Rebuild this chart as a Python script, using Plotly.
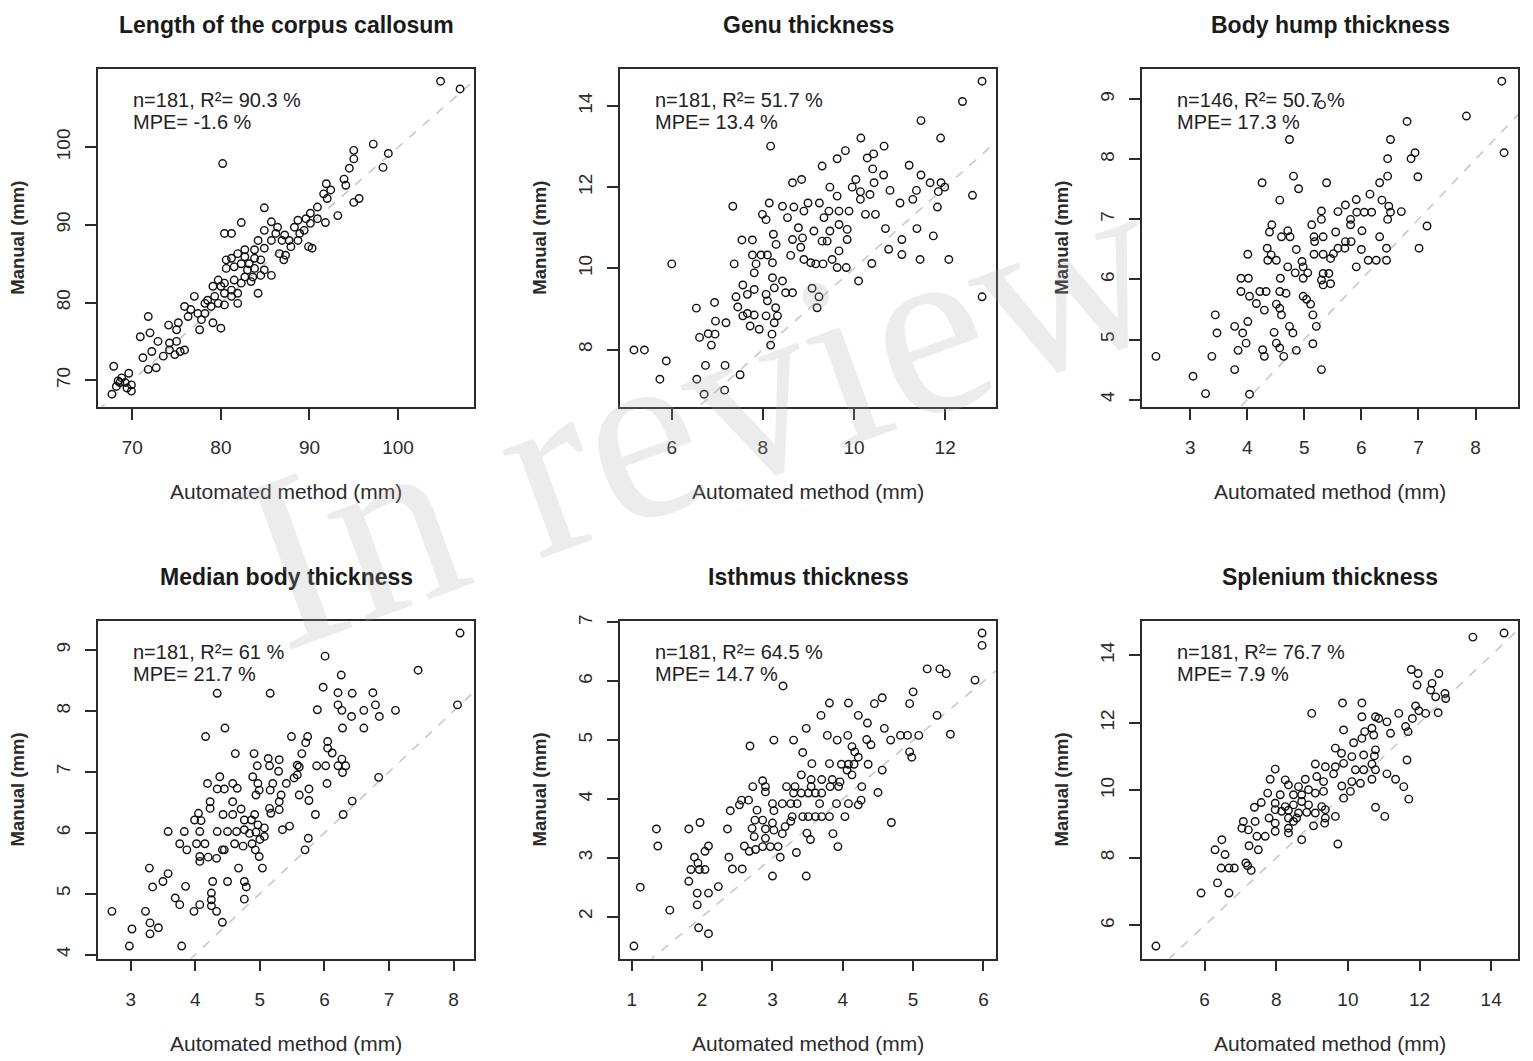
import plotly.graph_objects as go

# ---------------- data ----------------
titles = ["Length of the corpus callosum", "Genu thickness", "Body hump thickness",
          "Median body thickness", "Isthmus thickness", "Splenium thickness"]
stats_n = [181, 181, 146, 181, 181, 181]
stats_r2 = ["90.3", "51.7", "50.7", "61", "64.5", "76.7"]
stats_mpe = ["-1.6", "13.4", "17.3", "21.7", "14.7", "7.9"]

xticks_all = [[70, 80, 90, 100], [6, 8, 10, 12], [3, 4, 5, 6, 7, 8],
              [3, 4, 5, 6, 7, 8], [1, 2, 3, 4, 5, 6], [6, 8, 10, 12, 14]]
yticks_all = [[70, 80, 90, 100], [8, 10, 12, 14], [4, 5, 6, 7, 8, 9],
              [4, 5, 6, 7, 8, 9], [2, 3, 4, 5, 6, 7], [6, 8, 10, 12, 14]]

length_auto = [104.8, 107.0, 80.2, 95.0, 97.2, 98.9, 95.0, 98.3, 94.5, 93.9, 91.9, 92.4, 91.6, 94.1, 92.0, 95.0, 95.6,
               84.9, 93.2, 91.8, 90.9, 90.1, 89.6, 90.9, 88.7, 88.3, 89.4, 88.9, 90.1, 82.3, 85.7, 84.9, 86.4, 87.2,
               80.4, 81.2, 86.2, 85.7, 84.2, 86.9, 87.7, 88.7, 89.9, 90.3, 86.6, 87.3, 87.1, 87.9, 84.9, 83.8, 82.7,
               81.9, 80.6, 81.2, 82.7, 83.8, 84.5, 83.2, 82.3, 80.6, 81.5, 83.8, 83.0, 84.9, 85.7, 84.5, 83.6, 82.7,
               81.5, 79.7, 80.4, 82.3, 83.4, 79.1, 80.0, 81.2, 81.9, 81.2, 80.4, 84.2, 79.3, 78.5, 78.2, 78.9, 79.7,
               80.4, 81.9, 77.0, 75.9, 76.6, 77.4, 78.2, 76.3, 77.8, 79.1, 80.0, 77.6, 71.8, 74.1, 75.2, 75.0, 72.0,
               70.9, 72.9, 74.2, 75.0, 72.2, 74.2, 75.4, 75.9, 71.2, 73.5, 74.8, 71.8, 72.7, 67.9, 68.8, 69.6, 68.4,
               69.2, 68.2, 69.9, 69.9, 67.7, 69.4, 68.6]
length_manual = [108.5, 107.5, 97.9, 99.6, 100.4, 99.2, 98.5, 97.4, 97.3, 95.9, 95.3, 94.5, 94.0, 95.1, 93.4, 92.9, 93.4,
                 92.2, 91.2, 90.3, 92.3, 91.5, 90.8, 90.8, 90.6, 89.7, 89.3, 88.9, 90.2, 90.3, 90.4, 89.3, 89.7, 88.7,
                 88.9, 88.9, 88.9, 88.0, 88.0, 88.0, 88.0, 88.0, 87.2, 87.0, 86.3, 86.1, 85.5, 87.2, 87.0, 86.8, 86.8,
                 86.3, 85.5, 85.7, 85.9, 85.7, 85.5, 85.0, 85.0, 84.4, 84.6, 84.4, 84.2, 84.2, 83.5, 83.5, 83.3, 83.3,
                 82.9, 82.9, 82.5, 82.5, 82.7, 82.1, 82.1, 81.6, 81.2, 80.8, 81.2, 81.2, 80.8, 80.3, 79.9, 79.5, 79.9,
                 79.7, 79.9, 80.8, 79.5, 79.1, 78.6, 78.6, 78.2, 77.8, 77.4, 76.7, 76.5, 78.2, 77.1, 77.4, 76.5, 76.1,
                 75.6, 75.0, 74.8, 75.0, 73.7, 73.9, 73.7, 73.9, 72.9, 73.1, 73.3, 71.4, 71.6, 71.8, 70.3, 70.9, 69.9,
                 69.7, 69.2, 69.4, 68.6, 68.2, 69.0, 69.7]

genu_auto = [12.81, 12.38, 11.47, 11.90, 10.15, 8.17, 10.66, 9.81, 9.63, 10.43, 10.29, 9.30, 11.21, 10.41, 8.65, 8.85,
             11.47, 10.65, 10.04, 10.44, 11.67, 11.91, 11.99, 9.96, 9.47, 10.14, 10.79, 11.37, 11.85, 12.60, 9.63,
             10.14, 10.35, 11.29, 11.01, 11.83, 8.14, 8.99, 9.24, 7.34, 8.43, 8.68, 8.90, 9.45, 9.67, 9.89, 10.25,
             10.47, 8.54, 7.99, 8.07, 9.34, 9.67, 9.85, 8.78, 9.12, 9.47, 8.23, 10.69, 11.38, 8.65, 8.87, 9.30, 9.41,
             9.85, 11.74, 7.54, 7.77, 8.29, 11.05, 8.83, 9.67, 10.76, 11.05, 7.77, 7.96, 8.10, 8.61, 8.90, 9.05, 9.16,
             9.32, 9.52, 10.39, 11.45, 12.08, 6.00, 7.37, 7.85, 8.21, 9.63, 9.83, 10.10, 7.81, 8.21, 8.43, 7.56, 7.81,
             8.25, 7.66, 8.07, 8.50, 8.65, 7.41, 9.08, 9.23, 8.10, 8.28, 9.19, 6.54, 6.94, 7.45, 7.66, 7.81, 8.07,
             7.56, 8.32, 6.96, 7.19, 6.80, 6.95, 6.61, 6.87, 7.72, 7.92, 8.20, 8.25, 8.17, 5.17, 5.40, 5.88, 5.74,
             6.55, 6.74, 7.17, 7.50, 6.71, 7.16, 12.81]
genu_manual = [14.61, 14.11, 13.64, 13.21, 13.21, 13.01, 13.01, 12.90, 12.70, 12.82, 12.72, 12.52, 12.54, 12.45, 12.11,
               12.19, 12.30, 12.30, 12.19, 12.11, 12.11, 12.11, 12.00, 12.00, 12.00, 11.89, 11.92, 11.92, 11.89, 11.80,
               11.78, 11.70, 11.82, 11.70, 11.61, 11.51, 11.61, 11.61, 11.61, 11.53, 11.53, 11.51, 11.41, 11.41,
               11.41, 11.41, 11.33, 11.33, 11.25, 11.33, 11.20, 11.25, 11.08, 10.96, 11.00, 10.92, 10.92, 10.84,
               10.98, 10.98, 10.71, 10.75, 10.67, 10.67, 10.71, 10.80, 10.70, 10.70, 10.59, 10.71, 10.52, 10.43,
               10.47, 10.34, 10.33, 10.33, 10.33, 10.32, 10.22, 10.14, 10.11, 10.11, 10.22, 10.12, 10.22, 10.22,
               10.11, 10.11, 10.11, 10.14, 10.02, 10.02, 9.69, 9.89, 9.77, 9.69, 9.59, 9.48, 9.52, 9.36, 9.36, 9.40,
               9.40, 9.30, 9.51, 9.30, 9.20, 9.03, 9.03, 9.02, 9.16, 9.05, 8.89, 8.85, 8.83, 8.83, 8.83, 8.70, 8.66,
               8.39, 8.38, 8.30, 8.11, 8.58, 8.50, 8.38, 8.66, 8.11, 7.99, 7.99, 7.72, 7.27, 7.27, 7.61, 7.61, 7.38,
               6.90, 7.00, 9.30]

hump_auto = [8.46, 8.50, 7.84, 6.80, 5.30, 4.74, 6.51, 6.46, 6.87, 6.94, 6.46, 6.99, 6.32, 4.81, 4.26, 4.90, 5.39, 6.15,
             4.57, 5.91, 6.36, 6.48, 5.30, 5.59, 5.72, 5.92, 6.05, 6.18, 6.51, 6.70, 5.30, 5.81, 6.46, 4.43, 5.13,
             5.81, 7.15, 4.39, 4.71, 5.55, 6.01, 4.60, 4.75, 5.17, 5.33, 5.72, 5.82, 6.32, 5.18, 4.35, 4.86, 6.44,
             7.01, 4.01, 4.42, 5.17, 5.33, 5.51, 5.59, 5.71, 6.00, 4.36, 4.51, 4.71, 4.96, 4.98, 5.46, 5.91, 6.12,
             6.26, 6.44, 4.84, 5.06, 5.33, 5.43, 3.89, 4.02, 4.58, 4.98, 5.30, 5.33, 5.46, 3.89, 4.04, 4.16, 4.30,
             4.22, 4.33, 4.57, 4.68, 4.98, 5.04, 5.11, 4.51, 4.57, 4.60, 5.15, 3.44, 4.01, 3.78, 3.92, 3.47, 4.47,
             4.74, 4.80, 5.21, 3.98, 3.84, 4.27, 4.30, 4.51, 4.57, 4.64, 4.86, 5.15, 3.38, 2.40, 3.78, 5.30, 3.05,
             3.27, 4.04]
hump_manual = [9.30, 8.11, 8.72, 8.63, 8.91, 8.33, 8.33, 8.01, 8.01, 8.11, 7.72, 7.71, 7.61, 7.72, 7.61, 7.51, 7.61,
               7.42, 7.32, 7.33, 7.32, 7.22, 7.14, 7.13, 7.24, 7.12, 7.12, 7.12, 7.12, 7.13, 7.00, 7.00, 7.00, 6.91,
               6.91, 6.91, 6.89, 6.79, 6.81, 6.79, 6.81, 6.71, 6.71, 6.71, 6.71, 6.63, 6.63, 6.71, 6.63, 6.52, 6.50,
               6.52, 6.52, 6.42, 6.41, 6.42, 6.42, 6.43, 6.52, 6.52, 6.50, 6.32, 6.32, 6.21, 6.30, 6.21, 6.35, 6.21,
               6.32, 6.32, 6.32, 6.11, 6.11, 6.10, 6.10, 6.02, 6.02, 6.02, 6.02, 5.99, 5.91, 5.93, 5.80, 5.72, 5.60,
               5.49, 5.80, 5.80, 5.80, 5.77, 5.72, 5.67, 5.59, 5.59, 5.52, 5.41, 5.41, 5.41, 5.30, 5.22, 5.11, 5.11,
               5.12, 5.22, 5.11, 5.22, 4.94, 4.82, 4.83, 4.72, 4.94, 4.86, 4.72, 4.82, 4.93, 4.72, 4.72, 4.50, 4.50,
               4.39, 4.10, 4.09]

median_auto = [8.10, 8.06, 7.45, 6.01, 4.34, 5.16, 6.26, 5.98, 6.21, 6.43, 6.75, 6.21, 6.27, 6.79, 5.89, 6.61, 7.10,
               6.42, 6.85, 6.28, 6.61, 4.46, 4.16, 5.49, 5.74, 5.71, 6.05, 6.05, 6.12, 4.62, 4.91, 5.13, 5.30, 5.65,
               6.27, 4.96, 5.15, 5.58, 5.61, 5.88, 6.02, 6.21, 6.33, 6.28, 5.29, 5.58, 4.38, 4.89, 6.84, 5.53, 4.19,
               4.58, 4.97, 5.20, 5.41, 6.04, 4.34, 4.45, 4.65, 4.99, 5.16, 5.76, 5.33, 5.61, 4.94, 4.23, 4.58, 5.30,
               6.43, 5.76, 4.23, 4.71, 5.15, 5.30, 4.05, 4.43, 4.58, 4.92, 5.17, 5.86, 6.29, 3.99, 4.09, 4.76, 4.87,
               4.97, 5.07, 3.58, 3.83, 4.07, 4.34, 4.50, 4.64, 4.76, 4.84, 5.35, 5.46, 4.94, 5.07, 5.00, 3.76, 4.02,
               4.15, 3.87, 4.45, 4.61, 4.74, 4.88, 4.93, 5.75, 5.70, 4.07, 4.20, 4.33, 4.99, 4.07, 4.42, 4.67, 5.04,
               3.29, 3.58, 3.50, 3.34, 3.85, 4.27, 4.50, 4.76, 4.79, 3.69, 3.76, 4.25, 4.25, 4.07, 4.25, 4.76, 3.98,
               4.33, 2.71, 3.23, 3.30, 3.43, 3.02, 3.30, 4.42, 2.98, 3.79]
median_manual = [9.28, 8.10, 8.67, 8.90, 8.29, 8.29, 8.59, 8.39, 8.30, 8.29, 8.30, 8.10, 8.01, 8.10, 8.02, 8.01, 8.01,
                 7.91, 7.91, 7.72, 7.72, 7.72, 7.58, 7.58, 7.58, 7.48, 7.50, 7.39, 7.31, 7.30, 7.30, 7.22, 7.20, 7.30,
                 7.21, 7.10, 7.10, 7.11, 7.08, 7.10, 7.10, 7.10, 7.10, 6.99, 7.01, 6.95, 6.92, 6.92, 6.91, 6.90, 6.81,
                 6.81, 6.81, 6.81, 6.81, 6.81, 6.72, 6.72, 6.73, 6.70, 6.70, 6.72, 6.62, 6.62, 6.62, 6.51, 6.51, 6.51,
                 6.52, 6.53, 6.40, 6.39, 6.40, 6.38, 6.32, 6.30, 6.30, 6.30, 6.32, 6.30, 6.30, 6.21, 6.20, 6.21, 6.21,
                 6.13, 6.08, 6.02, 6.02, 6.02, 6.02, 6.02, 6.02, 6.05, 5.99, 6.05, 6.11, 6.01, 5.94, 5.89, 5.82, 5.82,
                 5.82, 5.72, 5.72, 5.82, 5.78, 5.82, 5.72, 5.91, 5.72, 5.61, 5.60, 5.58, 5.61, 5.53, 5.72, 5.42, 5.42,
                 5.42, 5.33, 5.20, 5.11, 5.12, 5.20, 5.20, 5.20, 5.11, 4.93, 4.82, 5.01, 4.90, 4.82, 4.80, 4.91, 4.71,
                 4.71, 4.71, 4.71, 4.52, 4.44, 4.42, 4.34, 4.53, 4.14, 4.14]

isthmus_auto = [5.98, 5.98, 5.20, 5.38, 5.47, 5.88, 3.15, 5.00, 4.95, 3.81, 4.08, 4.45, 4.56, 3.69, 4.22, 5.34, 4.35,
                3.48, 4.59, 3.78, 4.07, 5.53, 4.82, 4.92, 5.08, 3.02, 3.30, 3.92, 4.34, 4.68, 2.68, 4.13, 4.40, 4.17,
                3.43, 4.95, 4.98, 4.22, 3.56, 3.81, 3.98, 4.08, 4.16, 4.36, 4.56, 4.06, 4.13, 3.41, 3.55, 3.70, 3.85,
                3.96, 2.86, 2.72, 2.90, 3.20, 3.32, 3.55, 3.82, 3.94, 4.27, 2.90, 3.30, 3.41, 3.51, 3.61, 3.70, 4.26,
                4.50, 2.56, 2.66, 2.53, 3.00, 3.14, 3.26, 3.35, 3.67, 3.91, 4.08, 4.22, 2.78, 3.02, 2.40, 3.43, 3.51,
                3.61, 3.70, 3.81, 4.03, 3.28, 2.75, 2.86, 3.00, 3.18, 3.26, 4.69, 1.35, 1.81, 1.97, 2.36, 2.71, 2.90,
                3.02, 2.74, 2.90, 3.14, 3.49, 3.86, 3.54, 3.93, 1.37, 2.60, 2.67, 2.76, 2.86, 2.97, 3.08, 2.09, 2.04,
                3.11, 3.34, 1.89, 1.94, 2.38, 1.84, 1.96, 2.04, 2.43, 2.57, 1.81, 2.23, 1.93, 2.09, 3.00, 3.48, 1.12,
                1.54, 1.93, 1.95, 2.09, 1.03]
isthmus_manual = [6.82, 6.61, 6.21, 6.21, 6.13, 6.02, 5.92, 5.82, 5.62, 5.63, 5.63, 5.62, 5.72, 5.42, 5.42, 5.42, 5.29,
                  5.20, 5.20, 5.08, 5.08, 5.10, 5.08, 5.08, 5.08, 5.00, 5.00, 5.00, 5.01, 5.00, 4.90, 4.89, 4.92, 4.80,
                  4.79, 4.80, 4.71, 4.71, 4.60, 4.60, 4.59, 4.59, 4.59, 4.59, 4.49, 4.49, 4.41, 4.41, 4.33, 4.33, 4.33,
                  4.29, 4.31, 4.21, 4.21, 4.21, 4.21, 4.21, 4.21, 4.21, 4.21, 4.12, 4.10, 4.10, 4.10, 4.10, 4.10, 3.98,
                  4.11, 3.98, 3.98, 3.90, 3.92, 3.92, 3.92, 3.92, 3.92, 3.92, 3.92, 3.90, 3.81, 3.80, 3.80, 3.70, 3.70,
                  3.70, 3.70, 3.70, 3.70, 3.70, 3.64, 3.64, 3.59, 3.53, 3.62, 3.60, 3.49, 3.49, 3.60, 3.49, 3.50, 3.49,
                  3.47, 3.36, 3.33, 3.41, 3.42, 3.41, 3.31, 3.19, 3.20, 3.20, 3.11, 3.14, 3.19, 3.19, 3.19, 3.20, 3.11,
                  3.01, 3.09, 3.01, 2.91, 3.01, 2.80, 2.80, 2.80, 2.81, 2.81, 2.60, 2.51, 2.40, 2.40, 2.69, 2.69, 2.50,
                  2.11, 2.20, 1.81, 1.71, 1.50]

splenium_auto = [14.36, 13.49, 11.77, 11.96, 12.54, 11.93, 12.35, 12.31, 12.45, 12.71, 12.73, 12.52, 8.99, 9.85, 10.39,
                 11.89, 10.39, 10.77, 10.86, 11.42, 11.80, 11.98, 12.17, 11.09, 9.88, 10.67, 11.19, 11.61, 11.68,
                 10.72, 10.47, 10.16, 10.39, 10.77, 9.65, 9.82, 10.11, 10.44, 10.74, 11.65, 9.09, 9.37, 9.65, 9.88,
                 10.67, 7.97, 10.21, 10.44, 10.77, 11.09, 9.60, 7.83, 8.25, 8.81, 9.13, 9.32, 10.11, 10.35, 10.67,
                 11.33, 8.34, 8.62, 8.90, 9.83, 10.07, 11.56, 7.76, 8.11, 8.48, 8.71, 9.09, 9.32, 9.88, 11.70, 7.58,
                 7.97, 8.25, 8.48, 8.71, 8.90, 9.27, 7.39, 7.97, 8.15, 8.34, 8.62, 8.85, 9.09, 9.37, 10.77, 7.80, 8.34,
                 8.57, 9.37, 9.65, 11.03, 7.08, 7.41, 7.97, 8.48, 9.04, 9.35, 7.04, 7.22, 7.46, 7.69, 7.97, 8.34, 8.34,
                 8.71, 9.72, 6.48, 6.29, 6.57, 7.24, 7.50, 6.46, 6.68, 6.83, 7.15, 7.20, 7.30, 6.36, 5.90, 6.68, 4.64]
splenium_manual = [14.66, 14.54, 13.58, 13.46, 13.46, 13.12, 13.17, 12.97, 12.77, 12.87, 12.72, 12.30, 12.28, 12.59,
                   12.59, 12.50, 12.18, 12.18, 12.13, 12.28, 12.13, 12.36, 12.28, 12.03, 11.79, 11.84, 11.69, 11.89,
                   11.74, 11.64, 11.74, 11.41, 11.54, 11.20, 11.25, 11.10, 11.00, 11.05, 11.02, 10.90, 10.78, 10.70,
                   10.70, 10.80, 10.78, 10.63, 10.61, 10.61, 10.61, 10.49, 10.49, 10.33, 10.31, 10.33, 10.41, 10.26,
                   10.26, 10.21, 10.33, 10.33, 10.16, 10.11, 10.02, 10.13, 9.97, 10.11, 9.92, 9.87, 9.87, 9.87, 9.92,
                   9.97, 9.77, 9.74, 9.64, 9.62, 9.52, 9.57, 9.67, 9.57, 9.52, 9.50, 9.43, 9.38, 9.41, 9.33, 9.35, 9.33,
                   9.43, 9.50, 9.18, 9.18, 9.18, 9.18, 9.23, 9.23, 9.08, 9.08, 9.03, 9.08, 8.95, 9.03, 8.88, 8.83, 8.64,
                   8.64, 8.79, 8.74, 8.88, 8.54, 8.41, 8.54, 8.24, 8.10, 8.36, 8.24, 7.70, 7.70, 7.70, 7.85, 7.77, 7.63,
                   7.26, 6.96, 6.96, 5.39]

x_series = [length_auto, genu_auto, hump_auto, median_auto, isthmus_auto, splenium_auto]
y_series = [length_manual, genu_manual, hump_manual, median_manual, isthmus_manual, splenium_manual]

# ---------------- layout geometry (page pixels of the reference) ----------------
OX, OY = 8, 13                     # offset of the plot div inside the page
FW, FH = 1533 - 2 * OX, 1061 - OY
col_left = [98, 620, 1142]
col_w = 376
row_top = [68, 623]
row_h = 340


def px(X):
    return (X - OX) / FW


def py(Y):
    return 1 - (Y - OY) / FH


FONT = "Liberation Sans, Arial, sans-serif"
INK = "#2b2b2b"

fig = go.Figure()
layout = dict(
    width=FW, height=FH, margin=dict(l=0, r=0, t=0, b=0),
    paper_bgcolor="white", plot_bgcolor="white", showlegend=False,
    font=dict(family=FONT, size=19, color=INK),
)
annotations = []


def rng(v):
    lo, hi = min(v), max(v)
    pad = 0.04 * (hi - lo)
    return [lo - pad, hi + pad]


for i in range(6):
    r, c = divmod(i, 3)
    ax = "" if i == 0 else str(i + 1)
    xa, ya = "x" + ax, "y" + ax
    x0 = col_left[c]
    y0 = row_top[r]
    xr = rng(x_series[i])
    yr = rng(y_series[i])

    # identity line
    lo = min(xr[0], yr[0])
    hi = max(xr[1], yr[1])
    fig.add_trace(go.Scatter(x=[lo, hi], y=[lo, hi], mode="lines", xaxis=xa, yaxis=ya,
                             line=dict(color="#c8c8c8", width=1.6, dash="dash"), hoverinfo="skip"))
    fig.add_trace(go.Scatter(x=x_series[i], y=y_series[i], mode="markers", xaxis=xa, yaxis=ya,
                             marker=dict(symbol="circle-open", size=7.5, color="#111111",
                                         line=dict(width=1.4, color="#111111"))))

    common = dict(showline=True, mirror=True, linecolor=INK, linewidth=1.8, showgrid=False, zeroline=False,
                  ticks="outside", ticklen=11, tickwidth=1.6, tickcolor=INK,
                  tickfont=dict(family=FONT, size=19, color=INK))
    layout["xaxis" + ax] = dict(common, domain=[px(x0), px(x0 + col_w)], range=xr,
                                tickvals=xticks_all[i], anchor=ya, ticklabelstandoff=12)
    layout["yaxis" + ax] = dict(common, domain=[py(y0 + row_h), py(y0)], range=yr,
                                tickvals=yticks_all[i], anchor=xa, tickangle=-90, ticklabelstandoff=8)

    # panel title
    annotations.append(dict(text="<b>" + titles[i] + "</b>", xref="paper", yref="paper",
                            x=px(x0 + col_w / 2), y=py(y0 - 44), xanchor="center", yanchor="middle",
                            showarrow=False, font=dict(family=FONT, size=23, color="#1a1a1a")))
    # x axis title
    annotations.append(dict(text="Automated method (mm)", xref="paper", yref="paper",
                            x=px(x0 + col_w / 2), y=py(y0 + row_h + 85), xanchor="center",
                            yanchor="middle", showarrow=False, font=dict(family=FONT, size=21, color=INK)))
    # y axis title
    annotations.append(dict(text="<b>Manual (mm)</b>", xref="paper", yref="paper",
                            x=px(x0 - 80), y=py(y0 + row_h / 2), xanchor="center", yanchor="middle",
                            textangle=-90, showarrow=False, font=dict(family=FONT, size=18.5, color=INK)))
    # statistics text
    annotations.append(dict(text="n=%d, R²= %s %%" % (stats_n[i], stats_r2[i]),
                            xref=xa + " domain", yref=ya + " domain", x=0.088, y=0.907,
                            xanchor="left", yanchor="middle", showarrow=False,
                            font=dict(family=FONT, size=20, color="#222222")))
    annotations.append(dict(text="MPE= %s %%" % stats_mpe[i],
                            xref=xa + " domain", yref=ya + " domain", x=0.088, y=0.842,
                            xanchor="left", yanchor="middle", showarrow=False,
                            font=dict(family=FONT, size=20, color="#222222")))

# watermark
annotations.append(dict(text="In review", xref="paper", yref="paper", x=px(700), y=py(412),
                        xanchor="center", yanchor="middle", textangle=-20, showarrow=False,
                        font=dict(family="Liberation Serif, DejaVu Serif, serif", size=250,
                                  color="rgba(170,170,170,0.22)")))

layout["annotations"] = annotations
fig.update_layout(**layout)
fig.write_html("out.html")
